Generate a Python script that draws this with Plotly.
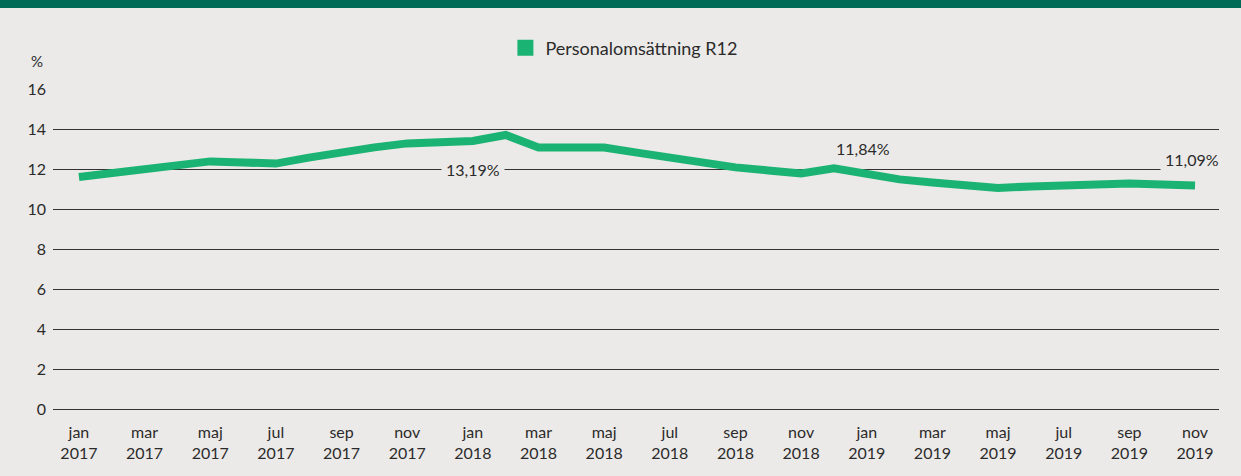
import plotly.graph_objects as go

# ---- data ----
months = ["jan", "feb", "mar", "apr", "maj", "jun", "jul", "aug", "sep", "okt", "nov", "dec"]
years = [2017, 2018, 2019]
categories = [f"{m} {y}" for y in years for m in months][:35]   # jan 2017 .. nov 2019

turnover = [11.60, 11.80, 12.00, 12.20, 12.38, 12.33, 12.27, 12.57, 12.87, 13.08,
            13.28, 13.34, 13.40, 13.70, 13.08, 13.08, 13.07, 12.82, 12.57, 12.32,
            12.08, 11.93, 11.78, 12.03, 11.75, 11.48, 11.33, 11.19, 11.05, 11.13,
            11.20, 11.24, 11.27, 11.22, 11.17]

series_name = "Personalomsättning R12"
y_ticks = [0, 2, 4, 6, 8, 10, 12, 14, 16]

annot_cats = ["jan 2018", "jan 2019", "nov 2019"]
annot_texts = ["13,19%", "11,84%", "11,09%"]

# ---- style ----
BG = "#ebeae8"
GREEN = "#1bb373"
DARK = "#006b57"
TXT = "#2b2b2b"
FONT = "Lato"

x_idx = list(range(len(categories)))
tick_idx = x_idx[::2]
tick_text = [categories[i].replace(" ", "<br>") for i in tick_idx]

fig = go.Figure()
fig.add_trace(go.Scatter(
    x=x_idx, y=turnover, mode="lines",
    line=dict(color=GREEN, width=8, shape="linear"),
    showlegend=False, hoverinfo="y",
))
fig.add_trace(go.Scatter(
    x=[None], y=[None], mode="markers", name=series_name,
    marker=dict(symbol="square", size=18, color=GREEN),
))

# annotations
a_pos = {
    "jan 2018": dict(xshift=0, bg=True, y=12, pad=4),
    "jan 2019": dict(xshift=-4, bg=False, y=13.05, pad=4),
    "nov 2019": dict(xshift=-3, bg=True, y=12.5, pad=4),
}
for c, t in zip(annot_cats, annot_texts):
    p = a_pos[c]
    fig.add_annotation(
        x=categories.index(c), y=p["y"], text=t, showarrow=False,
        xanchor="center", yanchor="middle", xshift=p["xshift"],
        font=dict(family=FONT, size=16, color=TXT),
        bgcolor=BG if p["bg"] else "rgba(0,0,0,0)", borderpad=p["pad"],
    )

# "%" unit label
fig.add_annotation(
    x=0, xref="paper", xanchor="right", xshift=-8,
    y=1, yref="paper", yanchor="bottom", yshift=17,
    text="%", showarrow=False, font=dict(family=FONT, size=15, color=TXT),
)

# top dark-green band
fig.add_shape(type="rect", xref="paper", yref="paper",
              x0=-0.2, x1=1.2, y0=1 + 81 / 320, y1=1.5,
              fillcolor=DARK, line=dict(width=0), layer="above")

fig.update_layout(
    width=1241, height=476,
    margin=dict(l=53, r=22, t=89, b=67, pad=0),
    paper_bgcolor=BG, plot_bgcolor=BG,
    font=dict(family=FONT, size=15, color=TXT),
    showlegend=True,
    legend=dict(orientation="h", x=0.388, xanchor="left", y=1.128, yanchor="middle",
                bgcolor="rgba(0,0,0,0)", font=dict(family=FONT, size=18, color=TXT),
                itemsizing="trace"),
    xaxis=dict(
        range=[-0.79, 34.73], tickmode="array", tickvals=tick_idx, ticktext=tick_text,
        showgrid=False, zeroline=False, showline=False, ticks="",
        ticklabelstandoff=12, tickfont=dict(family=FONT, size=16, color=TXT),
        fixedrange=True,
    ),
    yaxis=dict(
        range=[0, 16], tickmode="array", tickvals=y_ticks,
        showgrid=True, gridcolor="#333333", gridwidth=1,
        zeroline=True, zerolinecolor="#333333", zerolinewidth=1,
        showline=False, ticks="", ticklabelstandoff=6,
        tickfont=dict(family=FONT, size=16, color=TXT), fixedrange=True,
    ),
)

fig.write_html(
    "out.html",
    config={"displayModeBar": False},
    post_script="document.body.style.margin='0';document.body.style.background='%s';" % BG,
)
